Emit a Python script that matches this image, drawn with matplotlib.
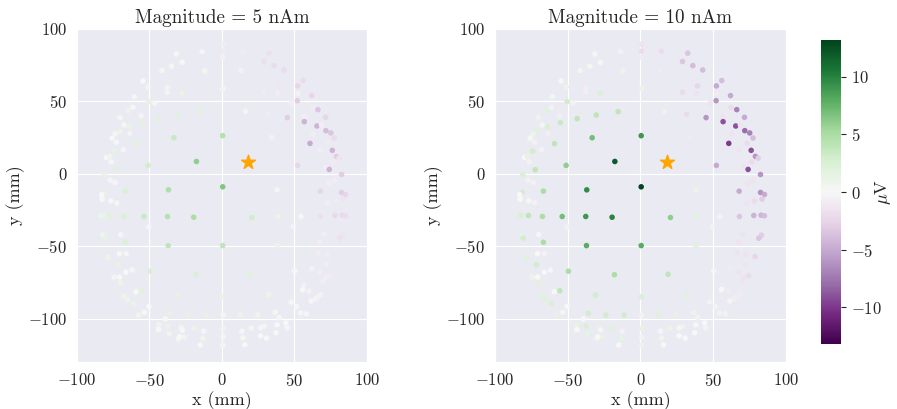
import numpy as np
import matplotlib
matplotlib.use("Agg")
import matplotlib.pyplot as plt
import seaborn as sns

sns.set_style("darkgrid")
plt.rcParams["font.family"] = ["cmr10"]
plt.rcParams["mathtext.fontset"] = "cm"
plt.rcParams["axes.formatter.use_mathtext"] = True

# electrode positions (mm) and potential (uV) for the 10 nAm dipole
x_mm = [
    0.7, 0.7, 0.7, -13.7, -31.4, -27.5, -34.8, -41.4, -11.9, -54.5, -50.9, -37.8, -37.8, -27.7, 0.7,
    -60.5, -50.4, -46.5, -64.6, -61.4, -70.3, -55.7, -43.5, -30.4, -15.3, -55.0, -63.9, -67.6, -70.3,
    -73.7, -63.5, -75.8, -72.9, -59.1, -33.2, 0.5, -74.2, -68.0, -79.7, -77.5, -76.5, -51.1, -17.6,
    -72.4, -80.9, -77.2, -73.7, -81.3, -66.7, -36.9, 0.5,
    14.4, 32.5, 28.9, 36.0, 42.8, 13.1, 55.9, 52.2, 39.2, 28.9, 38.3, 52.5, 61.9, 52.0, 47.9, 62.3,
    66.2, 16.3, 31.8, 45.1, 56.6, 71.5, 56.8, 65.5, 68.7, 71.7, 75.1, 63.0, 77.4, 34.4, 60.7, 73.3,
    76.1, 67.8, 79.0, 80.9, 76.7, 52.2, 71.7, 74.0, 82.5, 73.5, 77.4, 38.0, 67.8, 82.5, 85.2,
    -83.0, -82.7, -76.7, -72.6, -83.6, -82.0, -77.0, -67.4, -53.8, -37.6, -19.5, -50.4, -82.2, -80.6,
    -69.9, -66.7, -37.1, 0.5, -70.8, -66.0, -78.6, -71.5, -49.5, -17.9, -66.2, -61.9, -74.4, -70.6,
    -69.9, -55.4, -59.3, -30.9, 0.5, -67.6, -65.1, -61.2, -50.4, -53.4, -57.5, -35.9, -23.8, -11.2,
    0.7, -39.2, -43.5, -37.3, -28.2, -19.2, 0.7, -43.7, -36.4, -27.3, -30.0, -25.9, -29.3, -12.6,
    -13.1, -14.9, 0.7, 0.7,
    72.9, 78.4, 83.6, 20.6, 38.5, 54.5, 68.0, 77.9, 82.9, 85.2, 49.5, 70.3, 83.2, 81.3, 67.4, 38.3,
    66.4, 72.6, 78.8, 71.9, 61.9, 50.2, 67.4, 71.5, 74.5, 69.9, 19.0, 56.4, 55.7, 60.0, 68.0, 65.8,
    64.6, 32.1, 47.7, 61.4, 51.5, 54.3, 58.4, 12.6, 24.7, 36.7, 39.4, 44.0, 44.9, 38.0, 29.1, 26.6,
    20.2, 13.7, 14.4, 26.6, 30.7, 37.3, 15.8,
]
y_mm = [
    89.3, 84.6, 80.5, 84.4, 82.8, 77.0, 74.3, 71.3, 71.1, 64.1, 60.0, 59.7, 56.3, 55.8, 58.8,
    53.3, 49.8, 48.9, 43.6, 45.9, 38.8, 40.1, 38.1, 40.6, 42.9, 35.3, 32.5, 33.7, 29.1,
    27.7, 27.9, 24.7, 21.7, 20.8, 24.9, 26.3, 15.7, 16.6, 11.3, 12.0, 8.3, 5.8, 8.5,
    2.8, -0.7, -4.4, -6.0, -12.9, -12.0, -11.1, -9.0,
    84.6, 83.3, 77.5, 74.7, 71.7, 71.3, 64.4, 60.7, 60.7, 56.3, 55.6, 55.4, 54.0, 50.5, 48.7, 45.9,
    44.3, 43.1, 41.1, 38.8, 39.4, 39.0, 36.0, 33.0, 33.7, 29.8, 28.2, 27.5, 24.7, 25.1, 21.0, 21.2,
    16.2, 16.4, 12.0, 10.8, 8.1, 5.8, 4.4, 3.0, -0.5, -6.5, -4.8, -11.1, -12.0, -12.9, -14.3,
    -14.5, -17.5, -18.7, -20.1, -28.8, -28.5, -28.8, -29.5, -29.5, -29.5, -30.0, -36.7, -42.2, -44.5,
    -42.0, -47.3, -49.6, -49.6, -55.2, -55.2, -57.7, -62.8, -67.3, -69.7, -68.0, -66.4, -71.3, -71.3,
    -75.2, -80.8, -81.5, -83.7, -84.9, -84.6, -87.0, -89.7, -91.6, -95.7, -97.6, -96.4, -97.6, -97.6,
    -97.6, -100.3, -104.0, -105.2, -106.1, -106.6, -106.8, -107.5, -110.5, -108.0, -114.0, -112.8, -112.5, -108.7,
    -113.7, -118.3, -112.8, -118.3,
    -20.1, -18.7, -17.5, -30.2, -29.5, -29.5, -29.5, -28.8, -28.6, -29.0, -36.5, -41.7, -42.4, -44.5, -47.1, -49.6,
    -54.5, -55.6, -57.2, -62.3, -65.5, -67.1, -68.0, -71.3, -70.4, -74.3, -69.4, -77.0, -80.0, -80.9, -83.5, -85.1,
    -86.3, -83.5, -88.6, -87.9, -91.8, -96.0, -96.7, -97.4, -97.4, -95.7, -99.4, -103.0, -106.4, -104.3, -105.4, -106.4,
    -106.6, -108.7, -113.3, -111.9, -113.5, -109.8, -118.1,
]
v_10nAm = [
    -1.5, -2, -1, -0.5, -0.3, 0.3, 0.5, 0.5, 1, 0.2, 1, -0.8, -0.8, 2.5, 1,
    0.5, 3, -0.5, 2, -0.5, 1, -0.7, 4, 4, 4, 3.5, 2.5, -0.3, 2,
    1, -0.7, 0.2, -0.5, 4, 7, 9, 3, -0.5, 0, 1.5, -0.5, 6, 12,
    4, 2.5, -0.5, -0.5, 3, 5, 9.5, 13,
    -2, -3.5, -3.5, -4, -4, -1, -4, -5, -2.5, -2, -1.5, -1, -5, -6, -1.5, -2,
    -7, 1, -2, -6, -1.5, -5, -9, -9, -1.5, -8, -7, -1.5, -4, -1, -10, -2,
    -9, -1.5, -6, -3, -2, -5, -1.5, -9, -6, -1.5, -1.5, 1, -5, -6, -5,
    0, 0, 0.3, -0.5, 2, 2.5, 4, 5, 7, 9, 10, -0.5, 1.5, 3,
    -0.3, 5, 8, 8, 0, -0.5, 2, 3, 5, 5, 0, -0.3, 1, 0,
    2, 4, 0, 3, 2.5, 2, 2, 2.5, 0, 0.3, 1.5, 3, 3, 3,
    -0.5, 0, 1.5, 2.5, 1.5, 2, 1.5, 0, 1.5, -0.2, 1, 1.5, 0, -0.5,
    1.5, 0, -0.5, 1,
    -1.5, -2, -3, 6, 2, -0.5, -3.5, -4.5, -4.5, -4, -0.5, -1.5, -3, -3.5, -1.5, 2,
    -1.5, -1.5, -2.5, -1.5, -1, 0.3, -1.5, -1.5, -2, -1.5, 4, -1, 0, -1, -1, -1,
    -0.8, 2, -0.5, -0.3, -0.5, -0.5, -0.5, 2, 1.5, 1, -0.5, 0, -0.5, 0.2, 1, -0.3,
    1, -0.3, 0.8, 0, 0, 0, 0,
]
magnitudes = [5, 10]
dipole_pos = (18, 8)

x_mm = np.array(x_mm)
y_mm = np.array(y_mm)
v_10nAm = np.array(v_10nAm)
vlim = 13.2

fig = plt.figure(figsize=(8.97, 4.09), dpi=100)
ax1 = fig.add_axes([0.0858, 0.1149, 0.3233, 0.8142])
ax2 = fig.add_axes([0.5518, 0.1149, 0.3244, 0.8142])
cax = fig.add_axes([0.9153, 0.159, 0.0223, 0.743])

for ax, mag in zip([ax1, ax2], magnitudes):
    vals = v_10nAm * mag / 10.0
    sc = ax.scatter(x_mm, y_mm, c=vals, cmap="PRGn", vmin=-vlim, vmax=vlim,
                    s=16, linewidths=0, zorder=2)
    ax.scatter([dipole_pos[0]], [dipole_pos[1]], marker="*", color="orange",
               s=110, zorder=3)
    ax.set_xlim(-100, 100)
    ax.set_ylim(-130, 100)
    ax.set_xticks([-100, -50, 0, 50, 100])
    ax.set_yticks([-100, -50, 0, 50, 100])
    ax.tick_params(labelsize=12)
    ax.set_xlabel("x (mm)", fontsize=13, labelpad=2)
    ax.set_title(f"Magnitude = {mag} nAm", fontsize=13.8, pad=4)
ax1.set_ylabel("y (mm)", fontsize=13, labelpad=2)
ax2.set_ylabel("y (mm)", fontsize=13, labelpad=2)

cb = fig.colorbar(sc, cax=cax)
cb.set_ticks([-10, -5, 0, 5, 10])
cb.ax.tick_params(labelsize=12)
cb.outline.set_visible(False)
cb.set_label(r"$\mu$V", fontsize=13)
cb.ax.yaxis.set_label_coords(2.6, 0.5)

fig.savefig("out.png", dpi=100)
